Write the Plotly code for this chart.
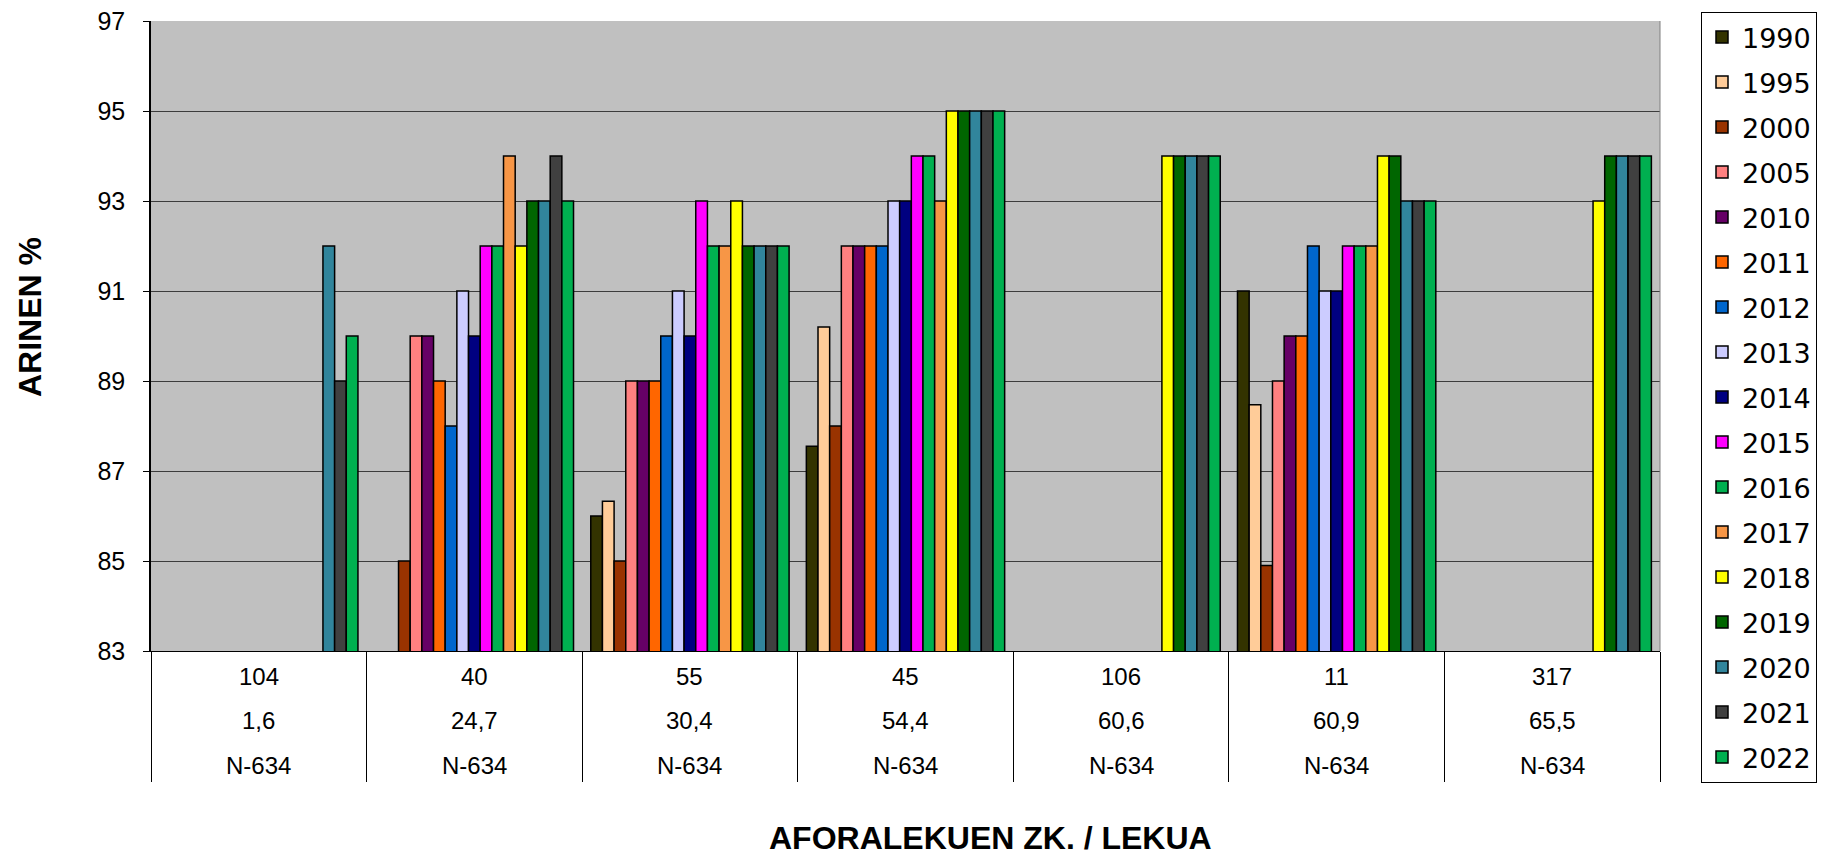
import plotly.graph_objects as go

# ---- data ----
stations = ["104", "40", "55", "45", "106", "11", "317"]
km_points = ["1,6", "24,7", "30,4", "54,4", "60,6", "60,9", "65,5"]
roads = ["N-634", "N-634", "N-634", "N-634", "N-634", "N-634", "N-634"]

years = ["1990", "1995", "2000", "2005", "2010", "2011", "2012", "2013", "2014",
         "2015", "2016", "2017", "2018", "2019", "2020", "2021", "2022"]

N = None
v1990 = [N, N, 86, 87.55, N, 91, N]
v1995 = [N, N, 86.33, 90.2, N, 88.47, N]
v2000 = [N, 85, 85, 88, N, 84.9, N]
v2005 = [N, 90, 89, 92, N, 89, N]
v2010 = [N, 90, 89, 92, N, 90, N]
v2011 = [N, 89, 89, 92, N, 90, N]
v2012 = [N, 88, 90, 92, N, 92, N]
v2013 = [N, 91, 91, 93, N, 91, N]
v2014 = [N, 90, 90, 93, N, 91, N]
v2015 = [N, 92, 93, 94, N, 92, N]
v2016 = [N, 92, 92, 94, N, 92, N]
v2017 = [N, 94, 92, 93, N, 92, N]
v2018 = [N, 92, 93, 95, 94, 94, 93]
v2019 = [N, 93, 92, 95, 94, 94, 94]
v2020 = [92, 93, 92, 95, 94, 93, 94]
v2021 = [89, 94, 92, 95, 94, 93, 94]
v2022 = [90, 93, 92, 95, 94, 93, 94]

series = [v1990, v1995, v2000, v2005, v2010, v2011, v2012, v2013, v2014,
          v2015, v2016, v2017, v2018, v2019, v2020, v2021, v2022]

colors = ["#333300", "#FFCC99", "#993300", "#FF8080", "#660066", "#FF6600",
          "#0066CC", "#CCCCFF", "#000080", "#FF00FF", "#00B050", "#F79646",
          "#FFFF00", "#006600", "#31859C", "#404040", "#00B050"]

y_title = "ARINEN %"
x_title = "AFORALEKUEN ZK. / LEKUA"

# ---- geometry (pixels) ----
W, H = 1824, 861
L, R, T, B = 151, 1660, 21, 651
pw, ph = R - L, B - T

def px_x(px):
    return (px - L) / pw

def px_y(py):
    return (B - py) / ph

FONT = "Liberation Sans, Arial, sans-serif"

fig = go.Figure()
for yr, vals, col in zip(years, series, colors):
    fig.add_trace(go.Bar(
        x=stations, y=vals, name=yr, legendgroup=yr,
        marker=dict(color=col, line=dict(color="black", width=1.5)),
    ))

annotations = []
row_y = [676, 720, 765]
for i, st in enumerate(stations):
    for ry, txt in zip(row_y, [st, km_points[i], roads[i]]):
        annotations.append(dict(
            x=i, xref="x", y=px_y(ry), yref="paper", text=txt,
            showarrow=False, xanchor="center", yanchor="middle",
            font=dict(family=FONT, size=24, color="black"),
        ))

annotations.append(dict(
    x=px_x(30), y=px_y(317), xref="paper", yref="paper", text=f"<b>{y_title}</b>",
    textangle=-90, showarrow=False, xanchor="center", yanchor="middle",
    font=dict(family=FONT, size=32, color="black"),
))
annotations.append(dict(
    x=px_x(990), y=px_y(838), xref="paper", yref="paper", text=f"<b>{x_title}</b>",
    showarrow=False, xanchor="center", yanchor="middle",
    font=dict(family=FONT, size=32, color="black"),
))

fig.update_layout(
    width=W, height=H, autosize=False,
    margin=dict(l=L, r=W - R, t=T, b=H - B, pad=0, autoexpand=False),
    paper_bgcolor="white", plot_bgcolor="#C0C0C0",
    barmode="group", bargap=0.08, bargroupgap=0,
    font=dict(family=FONT, color="black"),
    showlegend=True,
    legend=dict(
        xref="container", yref="container",
        x=1701 / W, xanchor="left", y=1 - 12 / H, yanchor="top",
        bgcolor="white", bordercolor="black", borderwidth=1,
        font=dict(family="DejaVu Sans, sans-serif", size=27, color="black"),
        traceorder="grouped", tracegroupgap=6.9, itemwidth=30,
        maxheight=850,
    ),
    annotations=annotations,
    shapes=[dict(type="line", xref="paper", yref="paper", x0=1, x1=1, y0=0, y1=1,
                 line=dict(color="#808080", width=1))],
)

fig.update_xaxes(
    type="category", categoryorder="array", categoryarray=stations,
    range=[-0.5, len(stations) - 0.5], autorange=False,
    showticklabels=False, showgrid=False,
    ticks="outside", tickson="boundaries", ticklen=130, tickwidth=1, tickcolor="black",
    showline=True, linecolor="black", linewidth=1, zeroline=False,
)
fig.update_yaxes(
    range=[83, 97], tickmode="array", tickvals=[83, 85, 87, 89, 91, 93, 95, 97],
    showgrid=True, gridcolor="#3C3C3C", gridwidth=1,
    ticks="outside", ticklen=6, tickcolor="black",
    showline=True, linecolor="black", linewidth=1.5, zeroline=False,
    tickfont=dict(family=FONT, size=25, color="black"), ticklabelstandoff=13,
)

fig.write_html(
    "out.html",
    config={"displayModeBar": False},
    post_script="document.body.style.margin='0px';document.body.style.overflow='hidden';",
)
